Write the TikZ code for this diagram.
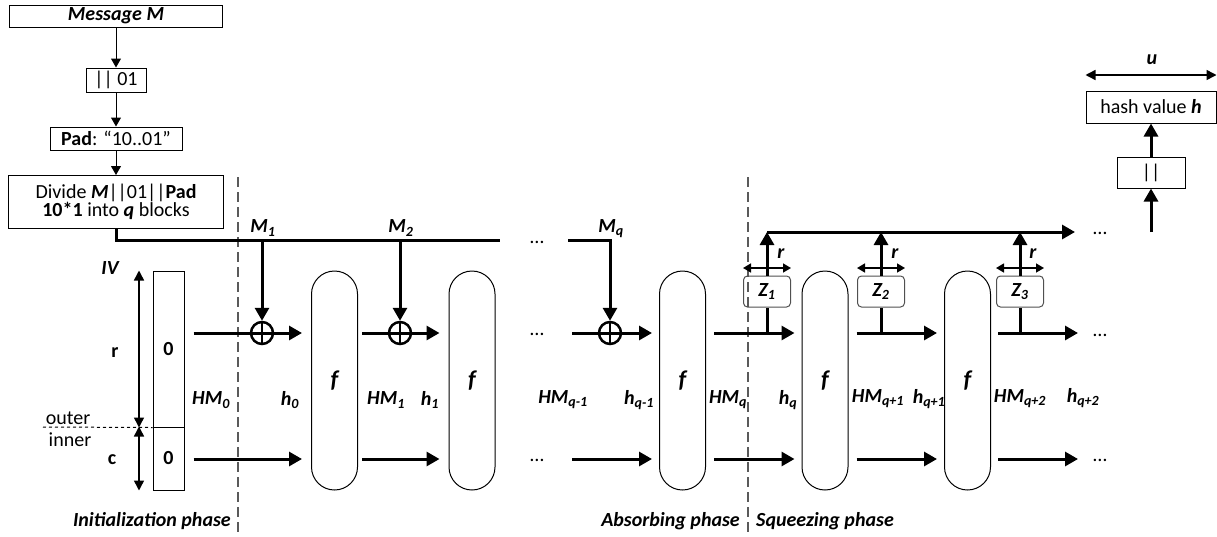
\documentclass[tikz,border=0pt]{standalone}
\usepackage{fontspec}
\setmainfont{Carlito}
\usetikzlibrary{arrows.meta, positioning}
\usepackage{xcolor}
\definecolor{phasecolor}{RGB}{90,90,90}
\definecolor{zboxcolor}{RGB}{80,80,80}

\begin{document}
\begin{tikzpicture}[x=1pt, y=-1pt]
  \tikzset{
    box/.style={
      draw,
      line width=1pt,
      inner sep=0pt,
      anchor=center,
      font=\fontsize{20}{18}\selectfont
    },
    fblock/.style={
      draw,
      line width=1pt,
      minimum width=46pt,
      minimum height=219pt,
      rounded corners=23pt,
      font=\fontsize{24}{24}\selectfont\bfseries\itshape
    },
    zblock/.style={
      draw=zboxcolor,
      line width=1pt,
      rounded corners=4pt,
      minimum width=47pt,
      minimum height=31pt,
      inner sep=0pt,
      font=\fontsize{20}{20}\selectfont\bfseries\itshape
    },
    xorop/.style={
      circle,
      draw,
      line width=2.5pt,
      minimum size=22pt,
      inner sep=0pt
    },
    varlabel/.style={
      inner sep=0pt,
      font=\fontsize{20}{20}\selectfont\bfseries\itshape
    },
    normaltext/.style={
      inner sep=0pt,
      font=\fontsize{20}{20}\selectfont
    },
    boldtext/.style={
      inner sep=0pt,
      font=\fontsize{20}{20}\selectfont\bfseries
    },
    dots/.style={
      inner sep=0pt,
      anchor=base,
      font=\fontsize{20}{20}\selectfont
    },
    thinarrow/.style={line width=1pt, -{Triangle[length=9pt, width=10pt]}},
    thickarrow/.style={line width=3pt, -{Triangle[length=13pt, width=14pt]}},
    thickline/.style={line width=3pt},
    sizearrow/.style={line width=1.5pt, {Triangle[length=10pt, width=10pt]}-{Triangle[length=10pt, width=10pt]}},
    smallsize/.style={line width=1.5pt, {Triangle[length=8pt, width=9pt]}-{Triangle[length=8pt, width=9pt]}},
    phaseline/.style={draw=phasecolor, line width=1.5pt, dash pattern=on 10pt off 5pt}
  }

  \useasboundingbox (0,0) rectangle (1217,536);

  % Padding of the message
  \node[box, minimum width=213pt, minimum height=22pt] (msg) at (116,16) {\textbf{\textit{Message M}}};
  \node[box, minimum width=60pt, minimum height=24pt] (app) at (116,80) {|| 01};
  \node[box, minimum width=132pt, minimum height=23pt] (pad) at (116,138.5) {\textbf{Pad}: “10..01”};
  \node[box, minimum width=215pt, minimum height=53pt, align=center] (divide) at (116,202) {Divide \textbf{\textit{M}}||01||\textbf{Pad}\\\textbf{10*1} into \textbf{\textit{q}} blocks};
  \draw[thinarrow] (msg) -- (app);
  \draw[thinarrow] (app) -- (pad);
  \draw[thinarrow] (pad) -- (divide);

  % Phase borders
  \coordinate (p1top) at (238,177);
  \coordinate (p1bot) at (238,536);
  \coordinate (p2top) at (748,177);
  \coordinate (p2bot) at (748,536);
  \draw[phaseline] (p1top) -- (p1bot);
  \draw[phaseline] (p2top) -- (p2bot);
  \node[varlabel, anchor=base east] (initlab) at (231,526) {Initialization phase};
  \node[varlabel, anchor=base east] (abslab) at (740,526) {Absorbing phase};
  \node[varlabel, anchor=base west] (sqzlab) at (756,526) {Squeezing phase};

  % Initial value IV
  \node[box, minimum width=31pt, minimum height=156pt, font=\fontsize{20}{20}\selectfont\bfseries] (ivr) at (168.5,349) {0};
  \node[box, minimum width=31pt, minimum height=63pt, font=\fontsize{20}{20}\selectfont\bfseries] (ivc) at (168.5,458.5) {0};
  \node[varlabel] (ivlab) at (110,268) {IV};
  \coordinate (ivaxis) at (139,0);
  \draw[sizearrow] (ivaxis |- ivr.north) -- (ivaxis |- ivr.south);
  \draw[sizearrow] (ivaxis |- ivc.north) -- (ivaxis |- ivc.south);
  \coordinate (split) at (43,427);
  \draw[dashed, line width=1pt] (split) -- (ivr.south west);
  \node[normaltext] (outer) at (68,418) {outer};
  \node[normaltext] (inner) at (70,440) {inner};
  \node[boldtext] (rlab) at (115,353) {r};
  \node[boldtext] (clab) at (112,460) {c};

  % Permutations f
  \node[fblock] (f1) at (334.5,380.5) {f};
  \node[fblock] (f2) at (472,380.5) {f};
  \node[fblock] (f3) at (682.5,380.5) {f};
  \node[fblock] (f4) at (825,380.5) {f};
  \node[fblock] (f5) at (967.5,380.5) {f};

  % XOR with the blocks M_i
  \node[xorop] (x1) at (262,333) {};
  \node[xorop] (x2) at (400,333) {};
  \node[xorop] (xq) at (610,333) {};
  \draw[line width=2.5pt] (x1.north) -- (x1.south) (x1.west) -- (x1.east);
  \draw[line width=2.5pt] (x2.north) -- (x2.south) (x2.west) -- (x2.east);
  \draw[line width=2.5pt] (xq.north) -- (xq.south) (xq.west) -- (xq.east);

  % Outer (top) and inner (bottom) rows
  \coordinate (rowtop) at (0,333);
  \coordinate (rowbot) at (0,459);
  \coordinate (a3top) at (572,333);
  \coordinate (a3bot) at (572,459);
  \coordinate (endtop) at (1078,333);
  \coordinate (endbot) at (1078,459);
  \draw[thickarrow, shorten <=9pt, shorten >=9pt] (rowtop -| ivr.east) -- (rowtop -| f1.west);
  \draw[thickarrow, shorten <=4pt, shorten >=9pt] (rowtop -| f1.east) -- (rowtop -| f2.west);
  \draw[thickarrow, shorten >=7pt] (a3top) -- (rowtop -| f3.west);
  \draw[thickarrow, shorten <=8pt, shorten >=7pt] (rowtop -| f3.east) -- (rowtop -| f4.west);
  \draw[thickarrow, shorten <=8pt, shorten >=7pt] (rowtop -| f4.east) -- (rowtop -| f5.west);
  \draw[thickarrow, shorten <=7pt] (rowtop -| f5.east) -- (endtop);
  \draw[thickarrow, shorten <=9pt, shorten >=9pt] (rowbot -| ivc.east) -- (rowbot -| f1.west);
  \draw[thickarrow, shorten <=4pt, shorten >=9pt] (rowbot -| f1.east) -- (rowbot -| f2.west);
  \draw[thickarrow, shorten >=7pt] (a3bot) -- (rowbot -| f3.west);
  \draw[thickarrow, shorten <=8pt, shorten >=7pt] (rowbot -| f3.east) -- (rowbot -| f4.west);
  \draw[thickarrow, shorten <=8pt, shorten >=7pt] (rowbot -| f4.east) -- (rowbot -| f5.west);
  \draw[thickarrow, shorten <=7pt] (rowbot -| f5.east) -- (endbot);
  \node[dots] (dmid) at (537,243) {…};
  \node[dots] (dtop) at (537,335) {…};
  \node[dots] (dbot) at (537,461) {…};
  \node[dots] (dout) at (1100,234) {…};
  \node[dots] (dtopr) at (1100,336) {…};
  \node[dots] (dbotr) at (1100,461) {…};

  % Message blocks
  \coordinate (mend) at (500,240);
  \coordinate (mqstart) at (568,240);
  \draw[thickline] (divide.south) |- (mend);
  \draw[thickarrow] (x1 |- mend) -- (x1.north);
  \draw[thickarrow] (x2 |- mend) -- (x2.north);
  \draw[thickarrow] (mqstart) -| (xq.north);
  \node[varlabel] (m1lab) at (263,228) {M\textsubscript{1}};
  \node[varlabel] (m2lab) at (401,228) {M\textsubscript{2}};
  \node[varlabel] (mqlab) at (611,229) {M\textsubscript{q}};

  % State labels
  \node[varlabel] (hm0) at (211,400) {HM\textsubscript{0}};
  \node[varlabel] (h0) at (290,400) {h\textsubscript{0}};
  \node[varlabel] (hm1) at (386,400) {HM\textsubscript{1}};
  \node[varlabel] (h1) at (430,400) {h\textsubscript{1}};
  \node[varlabel] (hmq1) at (563,400) {HM\textsubscript{q-1}};
  \node[varlabel] (hq1) at (639,400) {h\textsubscript{q-1}};
  \node[varlabel] (hmq) at (728,400) {HM\textsubscript{q}};
  \node[varlabel] (hq) at (788,400) {h\textsubscript{q}};
  \node[varlabel] (hmq2) at (878,399) {HM\textsubscript{q+1}};
  \node[varlabel] (hq2) at (929,399) {h\textsubscript{q+1}};
  \node[varlabel] (hmq3) at (1020,399) {HM\textsubscript{q+2}};
  \node[varlabel] (hq3) at (1083,398) {h\textsubscript{q+2}};

  % Squeezing outputs Z_i
  \node[zblock] (z1) at (767,291.5) {Z\textsubscript{1}};
  \node[zblock] (z2) at (881,291.5) {Z\textsubscript{2}};
  \node[zblock] (z3) at (1020,291.5) {Z\textsubscript{3}};
  \coordinate (zrow) at (0,232);
  \coordinate (rrow) at (0,268);
  \coordinate (outend) at (1075,232);
  \draw[thickline] (rowtop -| z1) -- (z1.south);
  \draw[thickline] (rowtop -| z2) -- (z2.south);
  \draw[thickline] (rowtop -| z3) -- (z3.south);
  \draw[thickarrow] (z1.north) -- (zrow -| z1);
  \draw[thickarrow] (z2.north) -- (zrow -| z2);
  \draw[thickarrow] (z3.north) -- (zrow -| z3);
  \draw[thickarrow] (zrow -| z1) -- (outend);
  \draw[smallsize] (rrow -| z1.west) -- (rrow -| z1.east);
  \draw[smallsize] (rrow -| z2.west) -- (rrow -| z2.east);
  \draw[smallsize] (rrow -| z3.west) -- (rrow -| z3.east);
  \node[varlabel] (r1) at (781,254) {r};
  \node[varlabel] (r2) at (895,254) {r};
  \node[varlabel] (r3) at (1033,254) {r};

  % Hash value
  \node[box, minimum width=130pt, minimum height=32pt] (hash) at (1151,107) {hash value \textbf{\textit{h}}};
  \node[box, minimum width=68pt, minimum height=31pt] (concat) at (1151,172.5) {||};
  \coordinate (hashin) at (1151,232);
  \coordinate (urow) at (0,75);
  \draw[thickarrow] (hashin) -- (concat);
  \draw[thickarrow] (concat) -- (hash);
  \draw[sizearrow] (urow -| hash.west) -- (urow -| hash.east);
  \node[varlabel] (ulab) at (1152,60) {u};

\end{tikzpicture}
\end{document}
